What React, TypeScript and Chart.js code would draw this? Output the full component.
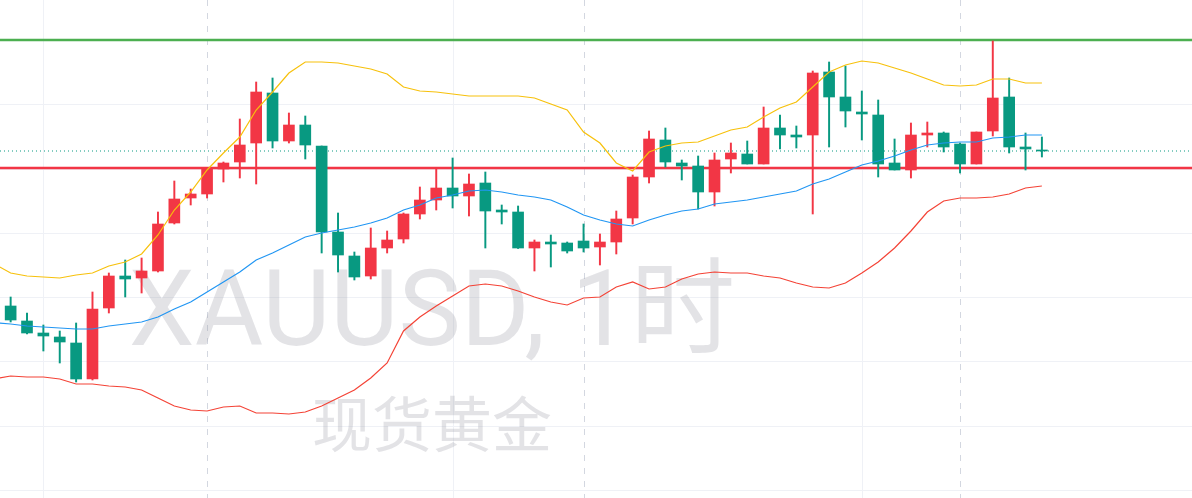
import { useEffect, useRef } from "react";
import { Chart, registerables } from "chart.js";

Chart.register(...registerables);

// hourly candles, index 0..63 (red = up, green = down)
const opens = [2615.52, 2614.32, 2613.36, 2613.04, 2612.56, 2609.68, 2615.36, 2617.92, 2617.76, 2618.32,
  2622.16, 2624.16, 2624.48, 2626.48, 2627.04, 2628.56, 2632.56, 2628.72, 2630.00, 2628.32,
  2621.44, 2619.52, 2617.92, 2620.16, 2620.88, 2622.88, 2624.00, 2624.96, 2624.32, 2625.36,
  2623.20, 2623.04, 2620.16, 2620.64, 2620.56, 2620.72, 2620.24, 2620.64, 2622.56, 2625.84,
  2628.80, 2626.96, 2626.72, 2624.64, 2627.28, 2627.68, 2626.88, 2629.76, 2629.20, 2629.20,
  2634.24, 2632.24, 2631.04, 2630.80, 2626.96, 2626.40, 2629.20, 2629.36, 2628.48, 2626.88,
  2629.52, 2632.24, 2628.24, 2628.00];
const highs = [2616.24, 2614.96, 2614.00, 2613.52, 2614.16, 2616.64, 2618.16, 2619.20, 2619.36, 2623.04,
  2625.52, 2624.88, 2626.56, 2627.04, 2630.48, 2633.44, 2633.76, 2630.96, 2630.72, 2628.32,
  2622.96, 2619.84, 2621.76, 2621.52, 2622.96, 2625.04, 2626.48, 2627.36, 2626.08, 2626.24,
  2623.60, 2623.52, 2620.80, 2621.20, 2620.64, 2622.08, 2621.28, 2623.12, 2626.00, 2629.52,
  2629.76, 2627.20, 2627.52, 2627.76, 2628.56, 2628.72, 2631.44, 2630.80, 2629.92, 2634.32,
  2635.04, 2634.72, 2632.72, 2632.00, 2628.88, 2630.16, 2630.24, 2629.44, 2628.56, 2629.44,
  2636.72, 2633.76, 2629.36, 2629.04];
const lows = [2614.24, 2613.28, 2611.92, 2610.96, 2609.44, 2609.60, 2614.96, 2616.24, 2616.56, 2618.24,
  2622.08, 2623.60, 2624.16, 2625.44, 2625.76, 2625.28, 2628.16, 2628.56, 2627.28, 2619.76,
  2618.24, 2617.60, 2617.68, 2619.76, 2620.56, 2622.48, 2623.20, 2623.36, 2622.72, 2620.16,
  2622.08, 2620.12, 2618.32, 2618.64, 2619.76, 2619.84, 2618.80, 2619.68, 2622.08, 2625.36,
  2626.64, 2625.60, 2623.28, 2623.52, 2626.16, 2626.88, 2626.88, 2628.08, 2628.16, 2622.88,
  2628.24, 2629.84, 2628.80, 2625.84, 2626.40, 2625.76, 2628.24, 2627.84, 2626.16, 2626.88,
  2629.12, 2627.76, 2626.40, 2627.44];
const closes = [2614.40, 2613.36, 2613.12, 2612.64, 2609.68, 2615.28, 2617.92, 2617.68, 2618.32, 2622.08,
  2624.08, 2624.48, 2626.48, 2626.96, 2628.40, 2632.64, 2628.72, 2630.00, 2628.40, 2621.44,
  2619.60, 2617.84, 2620.16, 2620.80, 2622.88, 2624.00, 2624.96, 2624.32, 2625.28, 2623.12,
  2623.04, 2620.16, 2620.64, 2620.48, 2619.92, 2620.16, 2620.64, 2622.48, 2625.84, 2628.88,
  2627.04, 2626.72, 2624.64, 2627.20, 2627.76, 2626.88, 2629.76, 2629.20, 2629.04, 2634.16,
  2632.24, 2631.12, 2630.88, 2626.88, 2626.40, 2629.20, 2629.36, 2628.24, 2626.88, 2629.44,
  2632.16, 2628.24, 2628.08, 2627.92];

// bollinger bands, first value is for index -1 (just off the left edge)
const bandStart = -1;
const upperBand = [2618.88, 2618.16, 2617.92, 2617.84, 2617.76, 2618.00, 2618.16, 2618.72, 2619.04, 2619.68,
  2621.20, 2623.20, 2624.64, 2626.40, 2627.76, 2629.04, 2631.20, 2632.64, 2634.16, 2635.04,
  2635.04, 2634.96, 2634.72, 2634.48, 2634.08, 2633.04, 2632.72, 2632.64, 2632.48, 2632.32,
  2632.32, 2632.32, 2632.32, 2632.16, 2631.68, 2631.20, 2629.44, 2628.56, 2626.96, 2626.32,
  2627.84, 2628.32, 2628.56, 2628.64, 2629.12, 2629.60, 2629.84, 2630.64, 2631.36, 2631.84,
  2633.04, 2634.24, 2634.80, 2635.12, 2634.96, 2634.56, 2634.16, 2633.68, 2633.20, 2633.12,
  2633.20, 2633.68, 2633.68, 2633.36, 2633.36];
const middleBand = [2614.20, 2614.08, 2613.92, 2613.84, 2613.76, 2613.68, 2613.68, 2613.92, 2614.08, 2614.24,
  2614.64, 2615.28, 2615.84, 2616.64, 2617.44, 2618.24, 2619.20, 2619.76, 2620.40, 2621.04,
  2621.36, 2621.60, 2621.84, 2622.16, 2622.56, 2623.20, 2623.60, 2624.16, 2624.40, 2624.72,
  2624.80, 2624.64, 2624.40, 2624.24, 2624.00, 2623.44, 2622.80, 2622.40, 2622.08, 2621.92,
  2622.40, 2622.80, 2623.12, 2623.28, 2623.68, 2623.84, 2624.00, 2624.24, 2624.48, 2624.72,
  2625.28, 2625.68, 2626.24, 2626.80, 2627.12, 2627.52, 2628.00, 2628.40, 2628.56, 2628.64,
  2628.64, 2628.96, 2629.04, 2629.20, 2629.20];
const lowerBand = [2609.68, 2609.92, 2609.84, 2609.84, 2609.68, 2609.28, 2609.28, 2609.12, 2609.04, 2608.80,
  2608.16, 2607.52, 2607.20, 2607.12, 2607.44, 2607.52, 2606.96, 2606.96, 2606.88, 2607.04,
  2607.52, 2608.16, 2608.80, 2609.76, 2610.96, 2613.52, 2614.64, 2615.52, 2616.32, 2617.12,
  2617.28, 2617.12, 2616.72, 2616.24, 2615.84, 2615.60, 2616.16, 2616.24, 2617.04, 2617.44,
  2616.88, 2617.04, 2617.68, 2618.08, 2618.24, 2618.16, 2618.16, 2617.92, 2617.76, 2617.36,
  2617.04, 2616.96, 2617.36, 2618.16, 2619.04, 2620.16, 2621.52, 2623.04, 2623.92, 2624.16,
  2624.16, 2624.24, 2624.48, 2624.96, 2625.12];

// drawn levels
const resistanceLevel = 2636.80;
const supportLevel = 2626.56;
const lastPrice = 2627.92;

// grid
const priceGrid = [2600.80, 2605.94, 2611.09, 2616.23, 2621.37, 2626.51, 2631.66, 2636.80];
const solidGridIdx = [2, 27, 52];
const dashedGridIdx = [12, 35, 58];

const watermarkTitle = "XAUUSD, 1时";
const watermarkSub = "现货黄金";

const UP = "#f23645";
const DOWN = "#089981";

const backdrop = {
  id: "backdrop",
  beforeDatasetsDraw(chart: any) {
    const { ctx, chartArea, scales } = chart;
    const { left, right, top, bottom } = chartArea;
    ctx.save();

    ctx.lineWidth = 1;
    ctx.strokeStyle = "#eff1f6";
    priceGrid.forEach((p) => {
      const y = Math.round(scales.y.getPixelForValue(p)) + 0.5;
      ctx.beginPath();
      ctx.moveTo(left, y);
      ctx.lineTo(right, y);
      ctx.stroke();
    });
    solidGridIdx.forEach((i) => {
      const x = Math.round(scales.x.getPixelForValue(i)) + 0.5;
      ctx.beginPath();
      ctx.moveTo(x, top);
      ctx.lineTo(x, bottom);
      ctx.stroke();
    });
    ctx.strokeStyle = "#d3d7e0";
    ctx.setLineDash([6, 7]);
    dashedGridIdx.forEach((i) => {
      const x = Math.round(scales.x.getPixelForValue(i)) + 0.5;
      ctx.beginPath();
      ctx.moveTo(x, top);
      ctx.lineTo(x, bottom);
      ctx.stroke();
    });
    ctx.setLineDash([]);

    // watermark
    ctx.fillStyle = "rgba(150, 153, 162, 0.27)";
    ctx.textAlign = "center";
    ctx.textBaseline = "alphabetic";
    ctx.font = '105px Roboto, "Noto Sans CJK SC", sans-serif';
    ctx.fillText(watermarkTitle, 432, 345);
    ctx.textBaseline = "middle";
    ctx.font = '60px "Noto Sans CJK SC", sans-serif';
    ctx.fillText(watermarkSub, 432, 424);

    // levels
    const hline = (p: number, color: string, width: number, dash: number[]) => {
      const y = scales.y.getPixelForValue(p);
      ctx.strokeStyle = color;
      ctx.lineWidth = width;
      ctx.setLineDash(dash);
      ctx.beginPath();
      ctx.moveTo(left, y);
      ctx.lineTo(right, y);
      ctx.stroke();
    };
    hline(lastPrice, DOWN, 1, [1, 3]);
    hline(resistanceLevel, "#4caf50", 2.5, []);
    hline(supportLevel, UP, 2.5, []);
    ctx.restore();
  },
};

export default function App() {
  const canvasRef = useRef<HTMLCanvasElement>(null);

  useEffect(() => {
    if (!canvasRef.current) return;
    const idx = opens.map((_, i) => i);
    const colors = idx.map((i) => (closes[i] >= opens[i] ? UP : DOWN));
    const band = (vals: number[]) => vals.map((v, k) => ({ x: k + bandStart, y: v }));

    const chart = new Chart(canvasRef.current, {
      type: "bar",
      data: {
        datasets: [
          {
            type: "line",
            data: band(upperBand),
            borderColor: "#f7c10c",
            borderWidth: 1.2,
            pointRadius: 0,
            tension: 0,
            order: 0,
          },
          {
            type: "line",
            data: band(middleBand),
            borderColor: "#2196f3",
            borderWidth: 1.2,
            pointRadius: 0,
            tension: 0,
            order: 0,
          },
          {
            type: "line",
            data: band(lowerBand),
            borderColor: "#f44336",
            borderWidth: 1.2,
            pointRadius: 0,
            tension: 0,
            order: 0,
          },
          {
            type: "bar",
            data: idx.map((i) => ({ x: i, y: [Math.min(opens[i], closes[i]), Math.max(opens[i], closes[i])] })) as any,
            backgroundColor: colors,
            barThickness: 11,
            grouped: false,
            order: 1,
          },
          {
            type: "bar",
            data: idx.map((i) => ({ x: i, y: [lows[i], highs[i]] })) as any,
            backgroundColor: colors,
            barThickness: 1.3,
            grouped: false,
            order: 2,
          },
        ],
      },
      options: {
        animation: false,
        responsive: true,
        maintainAspectRatio: false,
        layout: { padding: 0 },
        plugins: {
          legend: { display: false },
          tooltip: { enabled: false },
        },
        scales: {
          x: { type: "linear", min: -0.65, max: 72.17, offset: false, display: false },
          y: { type: "linear", min: 2600.16, max: 2640, display: false },
        },
      },
      plugins: [backdrop],
    });

    return () => {
      chart.destroy();
    };
  }, []);

  return (
    <div style={{ position: "fixed", left: 0, top: 0, width: 1192, height: 498, background: "#fff" }}>
      <canvas ref={canvasRef} />
    </div>
  );
}
